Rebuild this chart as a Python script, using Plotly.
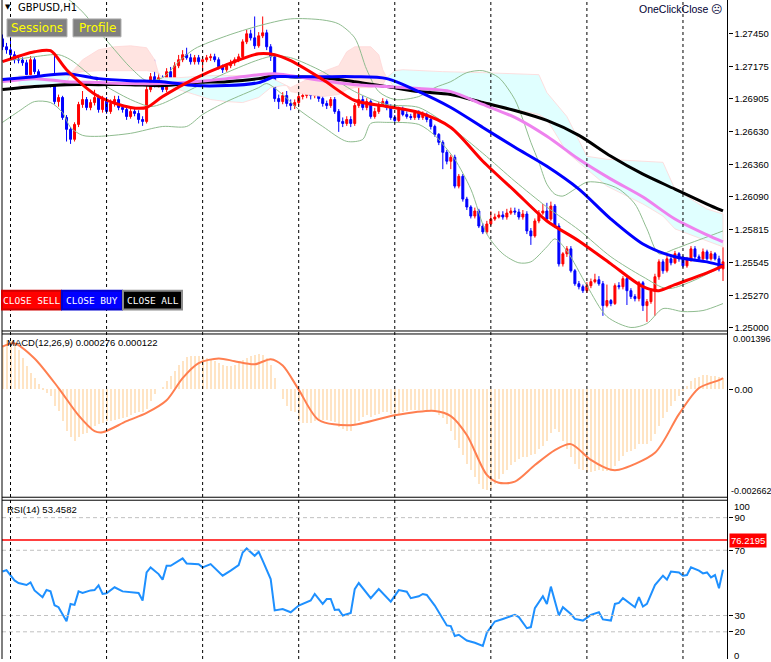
import plotly.graph_objects as go

W, H = 771, 662

# ---------------- price bars (GBPUSD H1) ----------------
bar_idx = list(range(181))
first_open = 1.27404
closes = [
    1.27338, 1.27313, 1.27272, 1.27230, 1.27228, 1.27205, 1.27106, 1.27230, 1.27131, 1.27032,
    1.27065, 1.27073, 1.27023, 1.26882, 1.26916, 1.26750, 1.26651, 1.26568, 1.26692, 1.26858,
    1.26899, 1.26833, 1.26874, 1.26916, 1.26816, 1.26899, 1.26800, 1.26866, 1.26899, 1.26833,
    1.26816, 1.26758, 1.26800, 1.26783, 1.26733, 1.26717, 1.26982, 1.27089, 1.27023, 1.27081,
    1.26982, 1.27131, 1.27081, 1.27180, 1.27230, 1.27272, 1.27247, 1.27214, 1.27247, 1.27214,
    1.27230, 1.27247, 1.27255, 1.27230, 1.27172, 1.27147, 1.27180, 1.27205, 1.27230, 1.27255,
    1.27379, 1.27446, 1.27412, 1.27346, 1.27429, 1.27454, 1.27338, 1.27255, 1.26907, 1.26882,
    1.26932, 1.26866, 1.26849, 1.26874, 1.26924, 1.26932, 1.26949, 1.26932, 1.26982, 1.26907,
    1.26866, 1.26849, 1.26899, 1.26800, 1.26717, 1.26700, 1.26733, 1.26700, 1.26849, 1.26899,
    1.26833, 1.26882, 1.26758, 1.26800, 1.26858, 1.26882, 1.26833, 1.26750, 1.26725, 1.26816,
    1.26775, 1.26758, 1.26750, 1.26791, 1.26750, 1.26775, 1.26733, 1.26675, 1.26609, 1.26543,
    1.26460, 1.26386, 1.26419, 1.26179, 1.26261, 1.26071, 1.26005, 1.25930, 1.25972, 1.25847,
    1.25798, 1.25864, 1.25905, 1.25922, 1.25939, 1.25922, 1.25955, 1.25972, 1.25963, 1.25922,
    1.25947, 1.25806, 1.25765, 1.25889, 1.25955, 1.25972, 1.25905, 1.26013, 1.25847, 1.25532,
    1.25616, 1.25657, 1.25475, 1.25367, 1.25342, 1.25309, 1.25351, 1.25384, 1.25400, 1.25367,
    1.25185, 1.25227, 1.25202, 1.25351, 1.25342, 1.25409, 1.25309, 1.25260, 1.25243, 1.25375,
    1.25185, 1.25218, 1.25309, 1.25425, 1.25549, 1.25475, 1.25574, 1.25541, 1.25616, 1.25574,
    1.25516, 1.25566, 1.25657, 1.25591, 1.25574, 1.25632, 1.25574, 1.25616, 1.25574, 1.25491,
    1.25549]
highs = [
    1.2744, 1.2737, 1.2742, 1.2730, 1.2726, 1.2725, 1.2723, 1.2726, 1.2725, 1.2715,
    1.2710, 1.2711, 1.2710, 1.2726, 1.2694, 1.2693, 1.2677, 1.2667, 1.2671, 1.2688,
    1.2697, 1.2692, 1.2690, 1.2698, 1.2694, 1.2693, 1.2692, 1.2690, 1.2693, 1.2693,
    1.2686, 1.2684, 1.2683, 1.2682, 1.2681, 1.2676, 1.2701, 1.2712, 1.2723, 1.2712,
    1.2710, 1.2716, 1.2717, 1.2721, 1.2727, 1.2731, 1.2733, 1.2728, 1.2727, 1.2727,
    1.2726, 1.2727, 1.2728, 1.2728, 1.2725, 1.2719, 1.2720, 1.2723, 1.2725, 1.2728,
    1.2740, 1.2748, 1.2748, 1.2759, 1.2746, 1.2759, 1.2748, 1.2736, 1.2728, 1.2694,
    1.2696, 1.2697, 1.2690, 1.2690, 1.2695, 1.2696, 1.2698, 1.2698, 1.2701, 1.2701,
    1.2693, 1.2689, 1.2692, 1.2692, 1.2682, 1.2675, 1.2676, 1.2676, 1.2687, 1.2701,
    1.2693, 1.2691, 1.2690, 1.2683, 1.2688, 1.2691, 1.2690, 1.2686, 1.2677, 1.2684,
    1.2684, 1.2680, 1.2678, 1.2681, 1.2681, 1.2680, 1.2679, 1.2675, 1.2669, 1.2662,
    1.2656, 1.2648, 1.2644, 1.2644, 1.2628, 1.2628, 1.2609, 1.2602, 1.2600, 1.2599,
    1.2587, 1.2589, 1.2597, 1.2595, 1.2597, 1.2597, 1.2599, 1.2600, 1.2600, 1.2599,
    1.2598, 1.2597, 1.2583, 1.2591, 1.2598, 1.2603, 1.2604, 1.2605, 1.2603, 1.2587,
    1.2563, 1.2568, 1.2568, 1.2549, 1.2539, 1.2536, 1.2538, 1.2541, 1.2545, 1.2543,
    1.2539, 1.2536, 1.2524, 1.2537, 1.2538, 1.2543, 1.2543, 1.2533, 1.2528, 1.2539,
    1.2539, 1.2524, 1.2533, 1.2545, 1.2557, 1.2557, 1.2560, 1.2560, 1.2564, 1.2563,
    1.2560, 1.2559, 1.2568, 1.2568, 1.2561, 1.2566, 1.2565, 1.2564, 1.2563, 1.2560,
    1.2567]
lows = [
    1.2731, 1.2728, 1.2723, 1.2720, 1.2720, 1.2718, 1.2708, 1.2709, 1.2711, 1.2700,
    1.2701, 1.2704, 1.2700, 1.2686, 1.2684, 1.2673, 1.2655, 1.2653, 1.2655, 1.2667,
    1.2683, 1.2681, 1.2681, 1.2685, 1.2679, 1.2679, 1.2678, 1.2678, 1.2684, 1.2681,
    1.2679, 1.2673, 1.2674, 1.2676, 1.2670, 1.2668, 1.2670, 1.2696, 1.2700, 1.2700,
    1.2696, 1.2696, 1.2706, 1.2707, 1.2716, 1.2721, 1.2723, 1.2719, 1.2719, 1.2719,
    1.2713, 1.2721, 1.2722, 1.2721, 1.2715, 1.2712, 1.2713, 1.2716, 1.2718, 1.2721,
    1.2723, 1.2736, 1.2739, 1.2732, 1.2733, 1.2741, 1.2731, 1.2722, 1.2688, 1.2682,
    1.2686, 1.2684, 1.2681, 1.2682, 1.2685, 1.2690, 1.2691, 1.2690, 1.2691, 1.2688,
    1.2684, 1.2682, 1.2683, 1.2678, 1.2663, 1.2667, 1.2668, 1.2667, 1.2668, 1.2683,
    1.2681, 1.2681, 1.2674, 1.2674, 1.2678, 1.2684, 1.2681, 1.2673, 1.2670, 1.2671,
    1.2676, 1.2674, 1.2673, 1.2673, 1.2673, 1.2673, 1.2671, 1.2665, 1.2659, 1.2652,
    1.2632, 1.2636, 1.2632, 1.2616, 1.2616, 1.2605, 1.2598, 1.2591, 1.2591, 1.2583,
    1.2578, 1.2578, 1.2585, 1.2589, 1.2591, 1.2590, 1.2590, 1.2594, 1.2594, 1.2590,
    1.2590, 1.2578, 1.2569, 1.2575, 1.2587, 1.2594, 1.2589, 1.2589, 1.2583, 1.2551,
    1.2551, 1.2559, 1.2546, 1.2535, 1.2532, 1.2529, 1.2529, 1.2533, 1.2537, 1.2535,
    1.2510, 1.2517, 1.2518, 1.2519, 1.2532, 1.2532, 1.2519, 1.2524, 1.2522, 1.2522,
    1.2514, 1.2505, 1.2520, 1.2510, 1.2540, 1.2545, 1.2546, 1.2552, 1.2553, 1.2555,
    1.2550, 1.2550, 1.2555, 1.2557, 1.2555, 1.2556, 1.2556, 1.2556, 1.2556, 1.2547,
    1.2539]
opens = [first_open] + closes[:-1]

# ---------------- moving averages ----------------
red_idx = [0, 8, 12, 16, 24, 32, 36, 40, 48, 56, 64, 68, 72, 80, 88, 96, 104, 112, 120, 128,
           136, 144, 152, 160, 164, 168, 176, 180]
red_ma = [1.27214, 1.27296, 1.27305, 1.27147, 1.26924, 1.26833, 1.26833, 1.26924, 1.27073, 1.27189,
          1.27280, 1.27272, 1.27222, 1.27065, 1.26891, 1.26841, 1.26791, 1.26667, 1.26386, 1.26137,
          1.25889, 1.25723, 1.25532, 1.25342, 1.25309, 1.25359, 1.25458, 1.25516]

ma_idx = [0, 8, 16, 24, 32, 40, 48, 56, 64, 68, 72, 80, 88, 96, 104, 112, 120, 128, 136, 144,
          152, 160, 168, 176, 180]
blue_ma = [1.27065, 1.27089, 1.27114, 1.27073, 1.27056, 1.27048, 1.27015, 1.27015, 1.27040, 1.27089,
           1.27089, 1.27089, 1.27089, 1.27073, 1.26965, 1.26833, 1.26667, 1.26502, 1.26344, 1.26154,
           1.25905, 1.25698, 1.25591, 1.25549, 1.25516]
violet_ma = [1.27048, 1.27073, 1.27048, 1.27040, 1.27032, 1.27032, 1.27048, 1.27073, 1.27106, 1.27114,
             1.27098, 1.27056, 1.27023, 1.27007, 1.26990, 1.26965, 1.26858, 1.26750, 1.26593, 1.26402,
             1.26237, 1.26088, 1.25905, 1.25773, 1.25715]
black_ma = [1.26982, 1.27007, 1.27023, 1.27023, 1.27023, 1.27015, 1.27040, 1.27048, 1.27073, 1.27098,
            1.27089, 1.27081, 1.27048, 1.27007, 1.26965, 1.26941, 1.26874, 1.26808, 1.26725, 1.26601,
            1.26427, 1.26278, 1.26154, 1.26030, 1.25972]

# Bollinger bands
bbu_idx = [0, 8, 14, 17, 20, 24, 28, 32, 36, 40, 44, 48, 56, 64, 72, 80, 84, 88, 91, 94,
           98, 104, 108, 112, 116, 120, 124, 128, 130, 132, 134, 136, 138, 140, 143, 146, 150, 154, 158, 161,
           164, 168, 172, 176, 180]
bb_upper = [1.27826, 1.27810, 1.27777, 1.27719, 1.27628, 1.27470, 1.27313, 1.27164, 1.27056, 1.27081,
            1.27214, 1.27321, 1.27429, 1.27512, 1.27570, 1.27561, 1.27528, 1.27412, 1.27147, 1.26965,
            1.26899, 1.26924, 1.26998, 1.27048, 1.27123, 1.27139, 1.27081, 1.26899, 1.26733, 1.26543,
            1.26377, 1.26195, 1.26112, 1.26096, 1.26154, 1.26212, 1.26204, 1.26154, 1.26030, 1.25823,
            1.25616, 1.25657, 1.25707, 1.25756, 1.25806]
bbm_idx = [0, 8, 14, 17, 24, 32, 37, 40, 48, 56, 64, 68, 72, 80, 88, 96, 104, 112, 120, 128,
           136, 144, 152, 160, 166, 172, 180]
bb_middle = [1.27214, 1.27255, 1.27272, 1.27230, 1.27048, 1.26899, 1.26841, 1.26866, 1.26998, 1.27123,
             1.27230, 1.27263, 1.27247, 1.27131, 1.26965, 1.26858, 1.26833, 1.26667, 1.26452, 1.26220,
             1.26005, 1.25814, 1.25591, 1.25425, 1.25326, 1.25384, 1.25516]
bbl_idx = [0, 4, 8, 12, 15, 17, 20, 24, 32, 40, 46, 50, 56, 64, 66, 70, 74, 80, 86, 90,
           92, 96, 104, 108, 110, 113, 117, 121, 125, 129, 132, 136, 138, 141, 146, 151, 157, 161, 165, 170,
           175, 180]
bb_lower = [1.26709, 1.26800, 1.26882, 1.26874, 1.26791, 1.26667, 1.26601, 1.26593, 1.26618, 1.26675,
            1.26675, 1.26775, 1.26882, 1.26998, 1.27032, 1.26940, 1.26816, 1.26675, 1.26551, 1.26568,
            1.26700, 1.26709, 1.26692, 1.26601, 1.26527, 1.26402, 1.26154, 1.25781, 1.25616, 1.25541,
            1.25549, 1.25674, 1.25740, 1.25640, 1.25351, 1.25094, 1.25003, 1.25036, 1.25160, 1.25135,
            1.25144, 1.25202]

# Ichimoku cloud spans
kumo_idx = [4, 10, 16, 17, 20, 24, 28, 32, 36, 38, 39, 40, 44, 48, 52, 56, 60, 64, 67, 70,
            71, 72, 76, 80, 84, 86, 88, 92, 94, 95, 96, 98, 100, 110, 120, 128, 134, 136, 141, 146,
            151, 160, 165, 168, 172, 176, 180]
span_a = [1.27098, 1.27098, 1.27098, 1.27114, 1.27131, 1.27139, 1.27139, 1.27139, 1.27139, 1.27131,
          1.27114, 1.27081, 1.27081, 1.27089, 1.27098, 1.27098, 1.27098, 1.27098, 1.27081, 1.27032,
          1.27015, 1.26965, 1.26941, 1.26924, 1.26941, 1.26982, 1.26998, 1.26998, 1.27015, 1.27023,
          1.27081, 1.27139, 1.27147, 1.27131, 1.27123, 1.27114, 1.27106, 1.26957, 1.26758, 1.26427,
          1.26402, 1.26386, 1.26377, 1.26154, 1.26071, 1.25988, 1.25947]
span_b = [1.27015, 1.27015, 1.27032, 1.27114, 1.27230, 1.27313, 1.27338, 1.27346, 1.27330, 1.27230,
          1.27114, 1.27032, 1.26982, 1.26941, 1.26899, 1.26882, 1.26874, 1.26916, 1.26998, 1.27015,
          1.27015, 1.26998, 1.27065, 1.27131, 1.27180, 1.27296, 1.27338, 1.27338, 1.27272, 1.27147,
          1.27081, 1.26998, 1.26982, 1.26949, 1.26882, 1.26816, 1.26775, 1.26733, 1.26460, 1.26319,
          1.26179, 1.26030, 1.25930, 1.25823, 1.25773, 1.25723, 1.25674]

# ---------------- MACD(12,26,9) ----------------
macd_main = [
    0.00112, 0.00125, 0.00121, 0.00112, 0.00100, 0.00079, 0.00059, 0.00041, 0.00029, 0.00014,
    0.00001, -0.00009, -0.00017, -0.00042, -0.00055, -0.00080, -0.00105, -0.00122, -0.00131, -0.00122,
    -0.00114, -0.00110, -0.00102, -0.00093, -0.00089, -0.00085, -0.00080, -0.00080, -0.00078, -0.00076,
    -0.00072, -0.00070, -0.00065, -0.00061, -0.00059, -0.00057, -0.00051, -0.00030, -0.00013, 0.00000,
    0.00006, 0.00021, 0.00034, 0.00046, 0.00061, 0.00072, 0.00082, 0.00083, 0.00084, 0.00084,
    0.00082, 0.00079, 0.00075, 0.00071, 0.00067, 0.00061, 0.00059, 0.00059, 0.00061, 0.00067,
    0.00075, 0.00079, 0.00084, 0.00087, 0.00089, 0.00087, 0.00079, 0.00062, 0.00029, 0.00000,
    -0.00026, -0.00042, -0.00055, -0.00059, -0.00080, -0.00086, -0.00086, -0.00086, -0.00080, -0.00077,
    -0.00077, -0.00077, -0.00080, -0.00084, -0.00097, -0.00102, -0.00105, -0.00105, -0.00092, -0.00080,
    -0.00070, -0.00066, -0.00070, -0.00066, -0.00062, -0.00058, -0.00058, -0.00062, -0.00065, -0.00062,
    -0.00058, -0.00056, -0.00054, -0.00052, -0.00052, -0.00052, -0.00052, -0.00054, -0.00058, -0.00065,
    -0.00074, -0.00089, -0.00105, -0.00130, -0.00148, -0.00168, -0.00190, -0.00206, -0.00223, -0.00240,
    -0.00253, -0.00256, -0.00253, -0.00240, -0.00228, -0.00215, -0.00206, -0.00193, -0.00185, -0.00177,
    -0.00171, -0.00171, -0.00168, -0.00163, -0.00152, -0.00143, -0.00131, -0.00112, -0.00102, -0.00109,
    -0.00131, -0.00152, -0.00173, -0.00190, -0.00202, -0.00206, -0.00211, -0.00211, -0.00208, -0.00206,
    -0.00208, -0.00208, -0.00206, -0.00194, -0.00181, -0.00169, -0.00160, -0.00157, -0.00152, -0.00139,
    -0.00139, -0.00139, -0.00131, -0.00114, -0.00093, -0.00072, -0.00059, -0.00043, -0.00030, -0.00017,
    -0.00005, 0.00008, 0.00020, 0.00027, 0.00030, 0.00035, 0.00035, 0.00033, 0.00033, 0.00030,
    0.00028]
signal_idx = [0, 3, 8, 14, 19, 23, 25, 31, 36, 41, 45, 49, 54, 58, 63, 67, 70, 74, 79, 87,
              98, 108, 112, 116, 121, 124, 128, 133, 138, 142, 147, 152, 154, 163, 169, 174, 179, 180]
macd_signal = [0.00109, 0.00117, 0.00079, 0.00004, -0.00065, -0.00105, -0.00108, -0.00080, -0.00059, -0.00027,
               0.00029, 0.00067, 0.00079, 0.00072, 0.00064, 0.00077, 0.00061, 0.00000, -0.00077, -0.00090,
               -0.00065, -0.00054, -0.00067, -0.00115, -0.00216, -0.00236, -0.00233, -0.00191, -0.00153, -0.00138,
               -0.00178, -0.00203, -0.00203, -0.00160, -0.00062, 0.00004, 0.00024, 0.00029]

# ---------------- RSI(14) ----------------
rsi_idx = [0, 1, 3, 4, 6, 7, 8, 10, 11, 12, 13, 14, 16, 17, 18, 19, 20, 22, 23, 24,
           25, 26, 28, 30, 34, 35, 36, 37, 39, 40, 41, 42, 45, 46, 49, 50, 52, 55, 57, 59,
           60, 61, 63, 64, 65, 66, 67, 68, 70, 72, 74, 77, 78, 80, 81, 82, 83, 84, 85, 87,
           88, 89, 92, 94, 97, 99, 101, 102, 104, 105, 106, 108, 109, 111, 112, 113, 114, 116, 118, 120,
           121, 123, 125, 128, 129, 131, 132, 133, 135, 136, 137, 139, 140, 142, 143, 145, 147, 149, 150, 152,
           153, 154, 155, 158, 159, 160, 161, 163, 165, 166, 167, 169, 170, 171, 172, 174, 175, 176, 177, 178,
           179, 180]
rsi_val = [57.0, 57.8, 51.5, 49.9, 48.7, 50.3, 45.4, 41.2, 45.6, 44.8, 36.3, 35.1, 26.5, 37.1, 36.5, 44.8, 43.8, 45.4, 45.6, 48.5,
           43.2, 43.6, 47.3, 44.8, 43.8, 39.2, 56.4, 59.5, 55.4, 52.0, 60.5, 60.5, 65.0, 61.9, 61.5, 59.5, 61.5, 54.4, 57.5, 60.9,
           68.6, 71.1, 66.6, 69.1, 63.6, 58.4, 52.3, 33.1, 34.0, 32.0, 36.1, 39.2, 43.2, 37.1, 40.1, 40.1, 33.4, 33.7, 30.0, 31.6,
           46.2, 49.9, 40.6, 46.2, 38.5, 45.6, 44.6, 40.6, 41.8, 43.2, 42.6, 36.1, 32.0, 23.9, 23.5, 17.4, 18.2, 14.7, 13.3, 11.3,
           19.4, 26.3, 27.9, 30.4, 29.0, 22.2, 22.9, 34.5, 41.8, 37.1, 47.7, 30.0, 35.1, 31.0, 27.9, 26.9, 30.4, 32.0, 27.6, 26.9,
           37.1, 37.7, 40.6, 35.1, 41.2, 35.5, 37.1, 48.7, 54.4, 52.0, 57.0, 56.4, 54.4, 54.8, 59.5, 57.5, 55.8, 56.4, 53.4, 54.8,
           46.7, 58.1]
rsi_levels = [90, 70, 30, 20]
rsi_alert = 76.2195

# day separators (bar numbers of session start) and price scale labels
day_start_bars = [2, 26, 50, 74, 98, 122, 146, 170]
price_ticks = [1.27450, 1.27175, 1.26905, 1.26630, 1.26360, 1.26090, 1.25815, 1.25545, 1.25270, 1.25000]
macd_top, macd_bottom = 0.001396, -0.002662


def px(x):
    return x / W


def py(y):
    return 1 - y / H


fig = go.Figure()

# ichimoku cloud, split wherever the spans cross
segments = []
cur = [0]
for k in range(1, len(kumo_idx)):
    cur.append(k)
    if span_a[k] == span_b[k] and k != len(kumo_idx) - 1:
        segments.append(cur)
        cur = [k]
segments.append(cur)
for seg in segments:
    bull = any(span_a[k] > span_b[k] for k in seg)
    xs = [kumo_idx[k] for k in seg]
    ys_a = [span_a[k] for k in seg]
    ys_b = [span_b[k] for k in seg]
    fig.add_trace(go.Scatter(
        x=xs + xs[::-1], y=ys_a + ys_b[::-1], mode="lines", fill="toself",
        fillcolor="rgb(224,255,255)" if bull else "rgb(255,228,225)",
        line=dict(color="rgb(255,215,215)", width=0.8), hoverinfo="skip"))

# bollinger bands
for xi, yv in [(bbu_idx, bb_upper), (bbm_idx, bb_middle), (bbl_idx, bb_lower)]:
    fig.add_trace(go.Scatter(x=xi, y=yv, mode="lines",
                             line=dict(color="rgb(143,188,143)", width=1, shape="spline", smoothing=0.8)))

fig.add_trace(go.Candlestick(
    x=bar_idx, open=opens, high=highs, low=lows, close=closes, whiskerwidth=0,
    increasing=dict(line=dict(color="#ff0000", width=1), fillcolor="#ff0000"),
    decreasing=dict(line=dict(color="#0000ff", width=1), fillcolor="#0000ff")))

for xi, yv, col in [(ma_idx, black_ma, "#000000"), (ma_idx, violet_ma, "rgb(238,130,238)"),
                    (ma_idx, blue_ma, "#0000ff"), (red_idx, red_ma, "#ff0000")]:
    fig.add_trace(go.Scatter(x=xi, y=yv, mode="lines",
                             line=dict(color=col, width=3, shape="spline", smoothing=0.8)))

# MACD pane
fig.add_trace(go.Bar(x=bar_idx, y=macd_main, width=0.5, yaxis="y2",
                     marker=dict(color="rgb(255,228,196)", line=dict(width=0))))
fig.add_trace(go.Scatter(x=signal_idx, y=macd_signal, mode="lines", yaxis="y2",
                         line=dict(color="rgb(255,127,80)", width=2, shape="spline", smoothing=0.8)))

# RSI pane
fig.add_trace(go.Scatter(x=rsi_idx, y=rsi_val, mode="lines", yaxis="y3",
                         line=dict(color="rgb(30,144,255)", width=2)))

shapes = []
for lv in rsi_levels:
    shapes.append(dict(type="line", xref="x", yref="y3", x0=-0.125, x1=181.125, y0=lv, y1=lv,
                       line=dict(color="rgb(192,192,192)", width=1, dash="4px,3px")))
shapes.append(dict(type="line", xref="x", yref="y3", x0=-0.125, x1=181.125, y0=rsi_alert, y1=rsi_alert,
                   line=dict(color="#ff0000", width=1.5)))
for b in day_start_bars:
    shapes.append(dict(type="line", xref="x", yref="paper", x0=b, x1=b, y0=0, y1=1,
                       line=dict(color="#000000", width=1, dash="3px,3px")))
# pane frames
for yy in [332.5, 335.5, 499.5, 502.5]:
    shapes.append(dict(type="line", xref="paper", yref="paper", x0=px(2), x1=px(727.5), y0=py(yy), y1=py(yy),
                       line=dict(color="#000000", width=1)))
for xx in [2, 727.5]:
    shapes.append(dict(type="line", xref="paper", yref="paper", x0=px(xx), x1=px(xx), y0=0, y1=1,
                       line=dict(color="#000000", width=1)))

# panel buttons
buttons = [("Sessions", 7, 67, "rgb(128,128,128)", "rgb(175,175,175)", "#ffff00"),
           ("Profile", 73, 121, "rgb(128,128,128)", "rgb(175,175,175)", "#ffff00")]
close_buttons = [("CLOSE SELL", 2, 61, "#ff0000", "#d00000"),
                 ("CLOSE BUY", 62, 122, "#0000ff", "#0000d0"),
                 ("CLOSE ALL", 123, 182, "#000000", "rgb(140,140,140)")]
annotations = []


def note(text, x, y, font, xanchor="left", **kw):
    annotations.append(dict(text=text, x=x, y=y, xref=kw.pop("xref", "paper"), yref=kw.pop("yref", "paper"),
                            xanchor=xanchor, yanchor="middle", showarrow=False, font=font, **kw))


for txt, x0, x1, fillc, linec, fc in buttons:
    shapes.append(dict(type="rect", xref="paper", yref="paper", x0=px(x0), x1=px(x1), y0=py(37), y1=py(19),
                       fillcolor=fillc, line=dict(color=linec, width=1)))
    note(txt, px((x0 + x1) / 2), py(28), dict(family="DejaVu Sans", size=12, color=fc), xanchor="center")
for txt, x0, x1, fillc, linec in close_buttons:
    shapes.append(dict(type="rect", xref="paper", yref="paper", x0=px(x0), x1=px(x1), y0=py(311), y1=py(292),
                       fillcolor=fillc, line=dict(color=linec, width=2)))
    note(txt, px((x0 + x1) / 2), py(301.5), dict(family="DejaVu Sans Mono", size=9.5, color="#ffffff"),
         xanchor="center")

lbl = dict(family="Liberation Sans", size=9.5, color="#000000")
small = dict(family="Liberation Sans", size=9, color="#000000")
note("▼", px(3), py(7), dict(family="DejaVu Sans", size=7, color="#000000"))
note("GBPUSD,H1", px(16), py(8), dict(family="DejaVu Sans", size=10, color="#000000"))
note("OneClickClose ☹", px(724), py(9), dict(family="Liberation Sans", size=10.5, color="#000033"),
     xanchor="right")
note("MACD(12,26,9) 0.000276 0.000122", px(5), py(344), lbl)
note("RSI(14) 53.4582", px(5), py(512), lbl)
note(f"{macd_top:.6f}", px(731), py(341), small)
note(f"{macd_bottom:.6f}", px(729), py(493), small)
note("100", px(732), py(509), lbl)
note("0", px(732), py(658), lbl)
note(f"{rsi_alert:.4f}", px(729), rsi_alert, dict(family="Liberation Sans", size=9.5, color="#ffffff"),
     yref="y3", bgcolor="#ff0000", borderpad=1)

axis_common = dict(side="right", anchor="free", position=px(727.5), showgrid=False, zeroline=False,
                   ticks="outside", ticklen=4, tickcolor="#000000", showline=False,
                   tickfont=lbl, fixedrange=True)

fig.update_layout(
    width=W, height=H, margin=dict(l=0, r=0, t=0, b=0),
    paper_bgcolor="#ffffff", plot_bgcolor="#ffffff", showlegend=False,
    xaxis=dict(domain=[px(2), px(727.5)], range=[-0.125, 181.125], visible=False,
               rangeslider=dict(visible=False), fixedrange=True),
    yaxis=dict(domain=[py(332), 1], range=[1.24978, 1.27727],
               tickvals=price_ticks, ticktext=[f"{v:.5f}" for v in price_ticks], **axis_common),
    yaxis2=dict(domain=[py(497), py(336)], range=[macd_bottom, macd_top],
                tickvals=[0], ticktext=["0.00"], **axis_common),
    yaxis3=dict(domain=[0, py(503)], range=[3.33, 100.38],
                tickvals=rsi_levels, ticktext=[str(v) for v in rsi_levels], **axis_common),
    bargap=0, shapes=shapes, annotations=annotations,
)

fig.write_html("out.html", config={"displayModeBar": False},
               post_script="document.body.style.margin='0px';document.body.style.overflow='hidden';")
